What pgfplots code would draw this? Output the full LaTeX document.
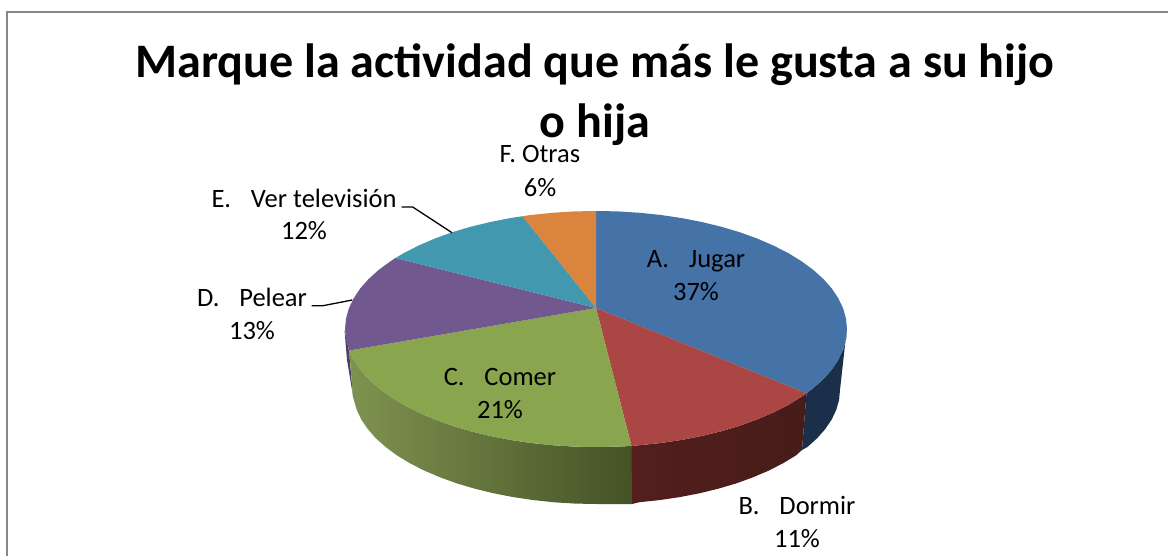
\documentclass[border=0pt]{standalone}
\usepackage{fontspec}
\setmainfont{Carlito}
\usepackage{pgfplots}
\pgfplotsset{compat=1.18}
\definecolor{cA}{HTML}{4572A7}
\definecolor{cB}{HTML}{AA4643}
\definecolor{cC}{HTML}{89A54E}
\definecolor{cD}{HTML}{71588F}
\definecolor{cE}{HTML}{4198AF}
\definecolor{cF}{HTML}{DB843D}
\definecolor{sA}{HTML}{1B2F4A}
\definecolor{sBl}{HTML}{521F1D}
\definecolor{sBr}{HTML}{471C19}
\definecolor{sCl}{HTML}{7F9350}
\definecolor{sCm}{HTML}{667838}
\definecolor{sCr}{HTML}{445226}
\definecolor{frame}{HTML}{868686}
\begin{document}
\begin{tikzpicture}
\path[use as bounding box] (0,0) rectangle (1168pt,556pt);
\begin{axis}[
  at={(0,0)}, anchor=south west,
  width=1168pt, height=556pt, scale only axis,
  xmin=0, xmax=1168, ymin=0, ymax=556, y dir=reverse,
  axis lines=none, clip=false]
% frame
\addplot[frame, line width=1.8pt] coordinates {(7,556) (7,12) (1168,12)};
% sides
\addplot[draw=none, fill=cD!70!black] coordinates {(344.5,330) (349,351) (353,396) (347,360)} -- cycle;
\addplot[draw=none, fill=sA] coordinates {(847,329) (846,339.3) (843.2,349.5) (838.4,359.5) (831.9,369.4) (823.5,378.9) (813.4,388) (806.5,393.3) (802,450) (807.4,447) (817.2,438.2) (825.3,429) (831.7,419.5) (836.3,409.8) (839.1,399.9) (840,390) (845,345)} -- cycle;
\addplot[draw=none, left color=sBl, right color=sBr] coordinates {(806.5,393.3) (801.6,396.7) (788.3,404.9) (773.5,412.4) (757.3,419.4) (740,425.7) (721.5,431.2) (702.1,435.9) (681.8,439.9) (661,443) (639.6,445.2) (631.5,446) (632,504) (638.8,502.3) (659.5,500.1) (679.8,497.1) (699.4,493.3) (718.3,488.7) (736.2,483.4) (753,477.3) (768.7,470.6) (783,463.3) (796,455.4) (802,450)} -- cycle;
\addplot[draw=none, left color=sCl, middle color=sCm, right color=sCr] coordinates {(631.5,446) (617.9,446.6) (596,447) (574.1,446.6) (552.4,445.2) (531,443) (510.2,439.9) (489.9,435.9) (470.5,431.2) (452,425.7) (434.7,419.4) (418.5,412.4) (403.7,404.9) (390.4,396.7) (378.6,388) (368.5,378.9) (360.1,369.4) (353.6,359.5) (349.2,350.5) (353,397) (356.7,409.8) (361.3,419.5) (367.7,429) (375.8,438.2) (385.6,447) (397,455.4) (410,463.3) (424.3,470.6) (440,477.3) (456.8,483.4) (474.8,488.7) (493.6,493.3) (513.2,497.1) (533.5,500.1) (554.2,502.3) (575.3,503.6) (596.5,504) (632,504)} -- cycle;
% top faces
\addplot[draw=none, fill=cA] coordinates {(596,308) (596,211) (617.9,211.4) (639.6,212.8) (661,215) (681.8,218.1) (702.1,222.1) (721.5,226.8) (740,232.3) (757.3,238.6) (773.5,245.6) (788.3,253.1) (801.6,261.3) (813.4,270) (823.5,279.1) (831.9,288.6) (838.4,298.5) (843.2,308.5) (846,318.7) (847,329) (846,339.3) (843.2,349.5) (838.4,359.5) (831.9,369.4) (823.5,378.9) (813.4,388) (806.5,393.3)} -- cycle;
\addplot[draw=none, fill=cB] coordinates {(596,308) (806.5,393.3) (801.6,396.7) (788.3,404.9) (773.5,412.4) (757.3,419.4) (740,425.7) (721.5,431.2) (702.1,435.9) (681.8,439.9) (661,443) (639.6,445.2) (631.5,446)} -- cycle;
\addplot[draw=none, fill=cC] coordinates {(596,308) (631.5,446) (617.9,446.6) (596,447) (574.1,446.6) (552.4,445.2) (531,443) (510.2,439.9) (489.9,435.9) (470.5,431.2) (452,425.7) (434.7,419.4) (418.5,412.4) (403.7,404.9) (390.4,396.7) (378.6,388) (368.5,378.9) (360.1,369.4) (353.6,359.5) (349.2,350.5)} -- cycle;
\addplot[draw=none, fill=cD] coordinates {(596,308) (349.2,350.5) (346,339.3) (345,329) (346,318.7) (348.8,308.5) (353.6,298.5) (360.1,288.6) (368.5,279.1) (378.6,270) (390.4,261.3) (395.5,258)} -- cycle;
\addplot[draw=none, fill=cE] coordinates {(596,308) (395.5,258) (403.7,253.1) (418.5,245.6) (434.7,238.6) (452,232.3) (470.5,226.8) (489.9,222.1) (510.2,218.1) (522.6,216.2)} -- cycle;
\addplot[draw=none, fill=cF] coordinates {(596,308) (522.6,216.2) (531,215) (552.4,212.8) (574.1,211.4) (596,211)} -- cycle;
% leader lines
\addplot[black, line width=1.3pt] coordinates {(401.7,207) (412.7,207) (452,232.7)};
\addplot[black, line width=1.3pt] coordinates {(311.7,305.7) (323,305.7) (352.3,300)};
% title
\node[anchor=base, font=\bfseries\fontsize{48.1}{50}\selectfont] at (axis cs:595,78) {Marque la actividad que más le gusta a su hijo};
\node[anchor=base, font=\bfseries\fontsize{48.1}{50}\selectfont] at (axis cs:595,138) {o hija};
% labels
\newcommand{\lab}[3]{\node[anchor=base, font=\fontsize{26.5}{30}\selectfont] at (axis cs:#1,#2) {#3};}
\lab{540}{163}{F. Otras}
\lab{540}{197}{6\%}
\lab{304}{208}{E.\hspace{0.75em}Ver televisión}
\lab{304}{240}{12\%}
\lab{252}{306}{D.\hspace{0.75em}Pelear}
\lab{252}{339}{13\%}
\lab{696}{268}{A.\hspace{0.75em}Jugar}
\lab{696}{301}{37\%}
\lab{797}{514}{B.\hspace{0.75em}Dormir}
\lab{797}{547}{11\%}
\lab{500}{385}{C.\hspace{0.75em}Comer}
\lab{500}{418}{21\%}
\end{axis}
\end{tikzpicture}
\end{document}
